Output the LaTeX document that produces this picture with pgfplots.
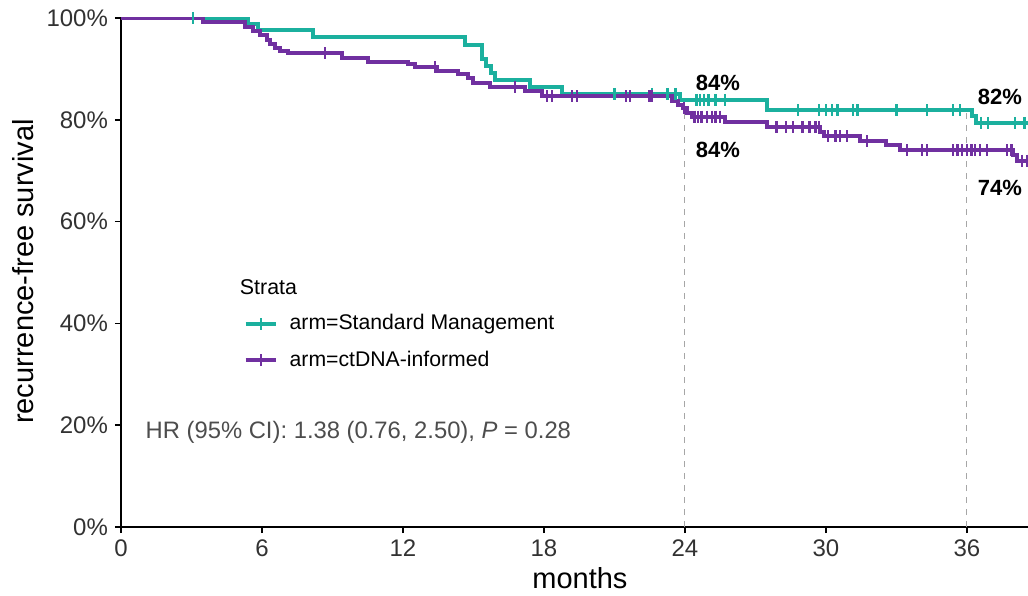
\documentclass[border=0pt]{standalone}
\usepackage{pgfplots}
\pgfplotsset{compat=1.18}
\usepackage{fontspec}
\setmainfont{Liberation Sans}
\definecolor{smteal}{RGB}{27,176,158}
\definecolor{ctpurple}{RGB}{112,48,160}
\definecolor{txtgray}{RGB}{50,50,50}
\definecolor{hrgray}{RGB}{77,77,77}
\begin{document}
\begin{tikzpicture}
\begin{axis}[name=ax, scale only axis, width=453.5pt, height=254.5pt,
  xmin=0, xmax=38.6, ymin=0, ymax=100,
  axis lines=left, axis line style={-, line width=1pt, black},
  xtick={0,6,12,18,24,30,36}, xticklabels={0,6,12,18,24,30,36},
  ytick={0,20,40,60,80,100}, yticklabels={0\%,20\%,40\%,60\%,80\%,100\%},
  tick align=outside, major tick length=3pt, tick style={line width=0.8pt, black},
  ticklabel style={font=\fontsize{12}{12}\selectfont, text=txtgray},
  xlabel={months}, ylabel={recurrence-free survival},
  label style={font=\fontsize{14.5}{15}\selectfont},
  xlabel style={at={(axis description cs:0.506,0)}, yshift=-25.5pt, anchor=center},
  ylabel style={at={(axis description cs:-0.108,0.502)}, anchor=center},
  legend style={at={(axis cs:4.95,43.4)}, anchor=north west, draw=none, fill=none,
    font=\fontsize{10.6}{12}\selectfont, row sep=5pt, text=black,
    /tikz/every odd column/.append style={column sep=4pt}},
  legend cell align=left,
]
% dashed reference lines
\addplot[forget plot, gray!70, dashed, line width=0.5pt] coordinates {(24,0) (24,84)};
\addplot[forget plot, gray!70, dashed, line width=0.5pt] coordinates {(36,0) (36,82)};
% Standard management
\addplot[const plot, smteal, line width=2pt,
  legend image code/.code={\draw[smteal, line width=2pt] (0pt,0pt)--(15pt,0pt); \draw[smteal, line width=1.2pt] (7.5pt,-3pt)--(7.5pt,3pt);}]
 coordinates {(0,100) (5.4,98.8) (5.83,97.6) (8.17,96.2) (14.64,94.7) (15.36,92.0) (15.55,90.6) (15.75,89.2) (15.91,87.8) (17.4,86.4) (18.77,85.1) (23.8,83.9) (27.5,81.9) (36.2,80.7) (36.4,79.4) (38.6,79.4)};
\addlegendentry{arm=Standard Management}
% ctDNA-informed
\addplot[const plot, ctpurple, line width=2pt,
  legend image code/.code={\draw[ctpurple, line width=2pt] (0pt,0pt)--(15pt,0pt); \draw[ctpurple, line width=1.2pt] (7.5pt,-3pt)--(7.5pt,3pt);}]
 coordinates {(0,100) (3.5,99.2) (5.28,98.2) (5.6,97.4) (5.9,96.7) (6.2,95.7) (6.35,94.9) (6.55,94.1) (6.77,93.5) (7.1,93.1) (9.4,92.1) (10.5,91.4) (12.2,90.9) (12.5,90.4) (13.45,89.6) (14.35,89.0) (14.75,88.2) (14.98,87.2) (15.7,86.4) (17.2,85.6) (17.9,84.6) (23.45,83.6) (23.7,82.9) (23.9,82.3) (24.1,81.3) (24.3,80.6) (25.7,79.6) (27.5,78.6) (29.75,77.6) (29.9,76.8) (31.45,75.8) (32.55,75.0) (33.15,74.0) (37.95,73.0) (38.15,72.0) (38.6,72.0)};
\addlegendentry{arm=ctDNA-informed}
% censor marks
\addplot[forget plot, only marks, mark=|, mark size=3pt, mark options={smteal, line width=1.2pt}]
 coordinates {(3.06,100) (21.0,85.1) (22.6,85.1) (23.25,85.1) (23.6,85.1) (24.5,83.9) (24.65,83.9) (24.8,83.9) (25.0,83.9) (25.3,83.9) (25.7,83.9) (28.8,81.9) (29.7,81.9) (30.0,81.9) (30.25,81.9) (30.5,81.9) (31.15,81.9) (31.35,81.9) (33.0,81.9) (34.3,81.9) (35.4,81.9) (35.7,81.9) (36.6,79.4) (36.9,79.4) (38.05,79.4) (38.45,79.4)};
\addplot[forget plot, only marks, mark=|, mark size=3pt, mark options={ctpurple, line width=1.2pt}]
 coordinates {(8.68,93.1) (13.36,90.4) (16.77,86.4) (18.13,84.6) (18.34,84.6) (19.2,84.6) (19.4,84.6) (21.5,84.6) (21.65,84.6) (22.5,84.6) (22.6,84.6) (23.95,82.3) (24.4,80.6) (24.55,80.6) (24.7,80.6) (24.95,80.6) (25.15,80.6) (25.3,80.6) (25.5,80.6) (27.9,78.6) (28.3,78.6) (28.6,78.6) (29.0,78.6) (29.3,78.6) (29.55,78.6) (29.7,78.6) (30.1,76.8) (30.4,76.8) (30.6,76.8) (30.9,76.8) (31.75,75.8) (33.45,74) (34.1,74) (34.3,74) (35.4,74) (35.6,74) (35.8,74) (36.0,74) (36.2,74) (36.35,74) (36.55,74) (36.85,74) (37.7,74) (37.9,74) (38.35,72) (38.55,72)};
% texts
\node[anchor=west, font=\fontsize{10.7}{12}\selectfont] at (axis cs:4.76,47.2) {Strata};
\node[anchor=west, font=\fontsize{11.9}{13}\selectfont, text=hrgray] at (axis cs:0.75,18.5) {HR (95\% CI): 1.38 (0.76, 2.50), \textit{P} = 0.28};
\node[font=\bfseries\fontsize{11}{12}\selectfont] at (axis cs:25.4,87.2) {84\%};
\node[font=\bfseries\fontsize{11}{12}\selectfont] at (axis cs:25.4,74.1) {84\%};
\node[font=\bfseries\fontsize{11}{12}\selectfont] at (axis cs:37.4,84.5) {82\%};
\node[font=\bfseries\fontsize{11}{12}\selectfont] at (axis cs:37.4,66.6) {74\%};
\end{axis}
\pgfresetboundingbox
\path[use as bounding box] ([xshift=-60.5pt,yshift=-34pt]ax.south west) rectangle ([xshift=453.5pt,yshift=263.5pt]ax.south west);
\end{tikzpicture}
\end{document}
